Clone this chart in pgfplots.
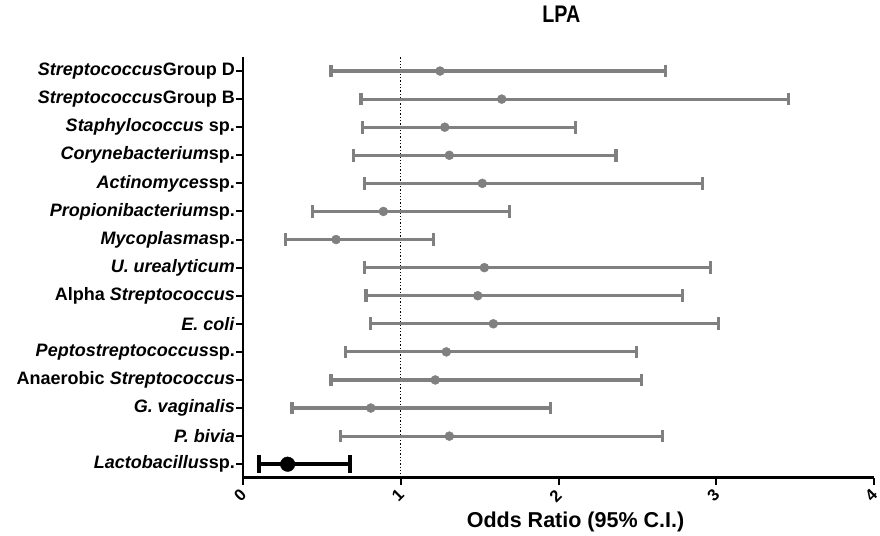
\documentclass[border=0pt]{standalone}
\usepackage{fontspec}
\setmainfont{Liberation Sans}
\usepackage{graphicx}
\usepackage{pgfplots}
\pgfplotsset{compat=1.18}
\usepackage{pgfplotstable}
\definecolor{bargray}{HTML}{808080}
\pgfplotstableread{
y or lo hi
14 1.249 0.558 2.676
13 1.640 0.748 3.456
12 1.279 0.759 2.107
11 1.308 0.700 2.365
10 1.517 0.769 2.915
9 0.890 0.440 1.689
8 0.590 0.271 1.207
7 1.530 0.769 2.966
6 1.488 0.780 2.786
5 1.587 0.807 3.016
4 1.289 0.651 2.496
3 1.219 0.558 2.526
2 0.810 0.311 1.947
1 1.308 0.620 2.657
}\grayrows
\pgfplotstableread{
y or lo hi
0 0.283 0.101 0.680
}\lactorow
\begin{document}
\begin{tikzpicture}
\useasboundingbox (-243pt,-57.3pt) rectangle (637pt,477.7pt);
\begin{axis}[
 scale only axis, width=631pt, height=420.7pt,
 xmin=0, xmax=4, ymin=-0.48, ymax=14.5,
 axis lines=left,
 axis line style={line width=2.5pt, -},
 xtick={0,1,2,3,4}, ytick={0,1,...,14},
 xticklabels={0,1,2,3,4},
 yticklabels={
  {\textit{Lactobacillus}sp.\hspace{5pt}},
  {\textit{P. bivia}},
  {\textit{G. vaginalis}},
  {Anaerobic \textit{Streptococcus}},
  {\textit{Peptostreptococcus}sp.},
  {\textit{E. coli}},
  {Alpha \textit{Streptococcus}},
  {\textit{U. urealyticum}},
  {\textit{Mycoplasma}sp.},
  {\textit{Propionibacterium}sp.},
  {\textit{Actinomyces}sp.},
  {\textit{Corynebacterium}sp.},
  {\textit{Staphylococcus} sp.\hspace{5pt}},
  {\textit{Streptococcus}Group B},
  {\textit{Streptococcus}Group D}},
 tick style={black, line width=2pt},
 tick align=outside, major tick length=7pt,
 yticklabel style={font=\fontsize{18}{21}\selectfont\bfseries, inner sep=1pt},
 xticklabel style={font=\fontsize{16.5}{18}\selectfont\bfseries, inner sep=0pt, xshift=-3pt, yshift=-11pt, rotate=45, anchor=center},
 title={\scalebox{0.82}[1]{LPA}},
 title style={font=\fontsize{24}{26}\selectfont\bfseries, at={(0.5045,1.088)}, anchor=center},
 xlabel={Odds Ratio (95\% C.I.)},
 xlabel style={font=\fontsize{21.5}{24}\selectfont\bfseries, at={(0.527,-0.105)}, anchor=center},
 clip=false,
]
\addplot[black, dotted, line width=1.3pt] coordinates {(1,-0.48) (1,14.5)};
\addplot[bargray, only marks, mark=*, mark size=4.5pt,
  error bars/.cd, x dir=both, x explicit,
  error bar style={line width=3.2pt, bargray},
  error mark options={line width=3.2pt, mark size=6.3pt, bargray, rotate=90}]
  table[x=or, y=y, x error plus expr=\thisrow{hi}-\thisrow{or}, x error minus expr=\thisrow{or}-\thisrow{lo}] {\grayrows};
\addplot[black, only marks, mark=*, mark size=7.3pt,
  error bars/.cd, x dir=both, x explicit,
  error bar style={line width=4pt, black},
  error mark options={line width=4pt, mark size=9pt, black, rotate=90}]
  table[x=or, y=y, x error plus expr=\thisrow{hi}-\thisrow{or}, x error minus expr=\thisrow{or}-\thisrow{lo}] {\lactorow};
\end{axis}
\end{tikzpicture}
\end{document}
